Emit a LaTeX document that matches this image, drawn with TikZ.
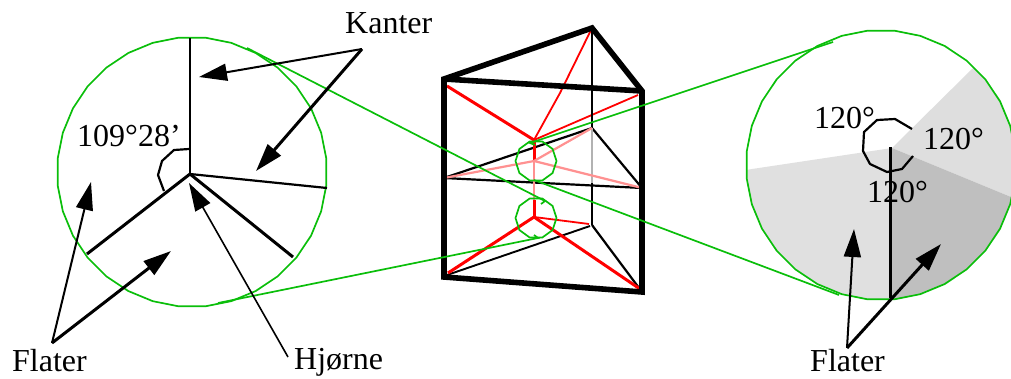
\documentclass[tikz,border=0pt]{standalone}
\usepackage{fontspec}
\setmainfont{Liberation Serif}
\usetikzlibrary{arrows.meta, shapes.geometric}
\definecolor{ringgreen}{RGB}{10,190,10}
\definecolor{facepink}{RGB}{255,145,145}
\tikzset{
  label/.style={anchor=base west,inner sep=0pt,font=\fontsize{32}{36}\selectfont},
  lens/.style={regular polygon,regular polygon sides=32,draw=ringgreen,line width=1.7pt,inner sep=0pt,minimum size=270pt},
  ring/.style={regular polygon,regular polygon sides=10,draw=ringgreen,line width=1.7pt,inner sep=0pt,minimum size=41pt},
  zoomline/.style={draw=ringgreen,line width=1.7pt},
  edge/.style={line width=2.2pt,line join=round},
  heavy/.style={line width=3pt},
  frame/.style={line width=5.6pt,line join=miter},
  redthin/.style={red,line width=1.8pt},
  redthick/.style={red,line width=3pt},
  pointer/.style={-{Triangle[length=28pt,width=17pt]},line width=2pt},
  pointerb/.style={-{Triangle[length=28pt,width=17pt]},line width=3pt}
}
\begin{document}
\begin{tikzpicture}[x=1pt,y=-1pt]
\useasboundingbox (0,0) rectangle (1011,378);
% left close-up
\node[lens] (lensL) at (192,172) {};
\coordinate (hubL) at (190,174);
\coordinate (edgeN) at (190,38);
\coordinate (edgeE) at (327,188);
\coordinate (edgeSE) at (293,257);
\coordinate (edgeSW) at (87,254);
\draw[edge] (hubL) -- (edgeN);
\draw[edge] (hubL) -- (edgeE);
\draw[heavy] (hubL) -- (edgeSE);
\draw[heavy] (hubL) -- (edgeSW);
\draw[edge] (189,149) -- (174,150) -- (162,161) -- (158,175) -- (164,191);
% right close-up, sectors are given from the centre of the lens
\node[lens,path picture={
  \fill[black!13] (11,-17) -- (92,-97) -- (149,-105) -- (149,40) -- (130,32) -- cycle;
  \fill[black!25] (11,-17) -- (130,32) -- (149,40) -- (149,145) -- (9,145) -- (9,-17) -- cycle;
  \fill[black!12] (11,-17) -- (9,145) -- (-141,145) -- (-141,6) -- (-129,4) -- cycle;
}] (lensR) at (881,165) {};
\coordinate (hubR) at (890,147);
\coordinate (edgeS) at (890,298);
\draw[heavy] (hubR) -- (edgeS);
\draw[edge] (912,129) -- (895,119) -- (877,120) -- (864,132) -- (863,151) -- (870,164) -- (887,172) -- (902,169) -- (913,156);
% prism
\coordinate (topL) at (444,79);
\coordinate (topB) at (592,28);
\coordinate (topR) at (642,91);
\coordinate (botL) at (444,277);
\coordinate (botR) at (642,292);
\coordinate (botB) at (590,226);
\coordinate (midL) at (444,178);
\coordinate (midR) at (642,188);
\coordinate (midB) at (592,128);
\coordinate (midG) at (592,183);
\coordinate (apexT) at (534,140);
\coordinate (apexM) at (534,161);
\coordinate (apexS) at (534,200);
\coordinate (apexB) at (534,217);
\draw[redthin] (topB) -- (560,93) -- (apexT);
\draw[redthin] (638,95) -- (apexT);
\draw[redthick] (447,86) -- (apexT);
\draw[edge] (midL) -- (midB);
\draw[edge] (midL) -- (midR);
\draw[edge] (midB) -- (midR);
\draw[edge] (topB) -- (midB);
\draw[line width=2.8pt,black!30] (midB) -- (midG);
\draw[edge] (midG) -- (592,225);
\draw[edge] (592,225) -- (botR);
\draw[edge,line width=1.9pt] (447,275) -- (botB);
\draw[redthick] (apexT) -- (apexM);
\draw[line width=2.2pt,facepink] (apexM) -- (midL);
\draw[line width=2.2pt,facepink] (apexM) -- (midB);
\draw[line width=2.2pt,facepink] (apexM) -- (midR);
\draw[line width=2.6pt,facepink] (apexM) -- (apexS);
\draw[redthick] (apexS) -- (apexB);
\draw[redthick] (apexB) -- (448,273);
\draw[redthick] (apexB) -- (640,289);
\draw[redthin] (apexB) -- (589,224);
\draw[frame] (botL) -- (topL) -- (topB) -- (topR) -- (botR) -- cycle;
\draw[frame] (topL) -- (topR);
\node[ring] (ringT) at (536,161) {};
\node[ring] (ringB) at (536,218) {};
% zoom lines
\draw[zoomline] (247,48) -- (545,201) -- (541,204);
\draw[zoomline] (218,303) -- (538,238) -- (534,235);
\draw[zoomline] (833,42) -- (530,143) -- (535,145);
\draw[zoomline] (839,295) -- (534,180);
% labels
\node[label] (kanter) at (345,33) {Kanter};
\node[label] (angL) at (77,146) {109°28’};
\node[label] (flaterL) at (12,371) {Flater};
\node[label] (hjorne) at (294,369) {Hjørne};
\node[label] (flaterR) at (810,371) {Flater};
\node[label] (angA) at (814,128) {120°};
\node[label] (angB) at (923,149) {120°};
\node[label] (angC) at (867,202) {120°};
% pointers
\coordinate (kanterO) at (362,49);
\coordinate (flaterO) at (52,343);
\coordinate (flaterP) at (847,348);
\coordinate (hjorneO) at (288,357);
\draw[pointer] (kanterO) -- (199,77);
\draw[pointerb] (kanterO) -- (256,171);
\draw[pointer] (flaterO) -- (91,182);
\draw[pointerb] (flaterO) -- (171,251);
\draw[pointer,line width=1.6pt] (hjorneO) -- (189,183);
\draw[pointer] (flaterP) -- (854,229);
\draw[pointerb] (flaterP) -- (941,244);
\end{tikzpicture}
\end{document}
